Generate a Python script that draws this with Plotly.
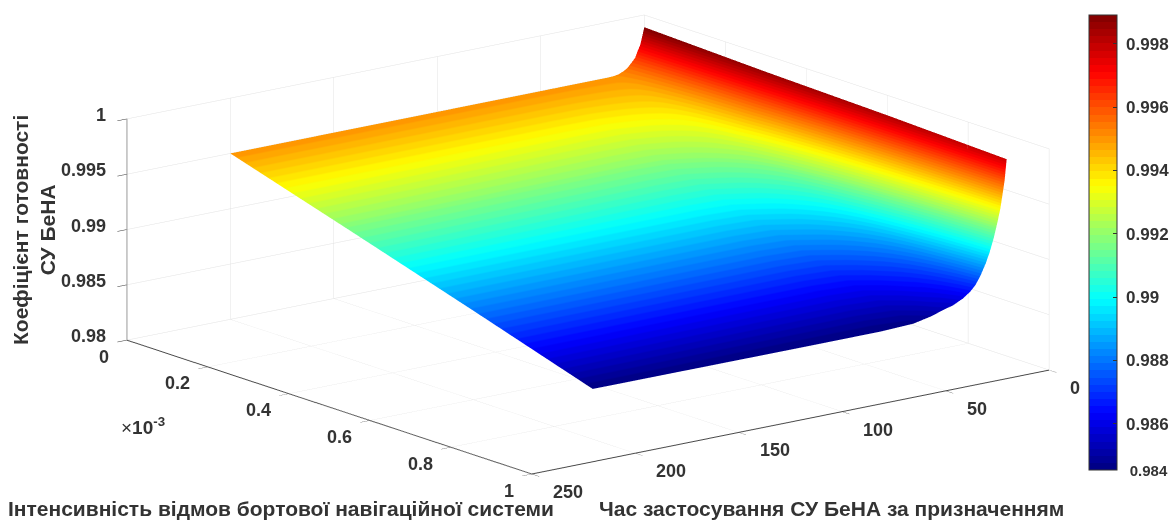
import plotly.graph_objects as go

# Time of use (x axis)
t_values = [0, 1, 1.9, 3.1, 4.4, 6.25, 8.25, 10, 12.5, 15, 17.5, 21, 26, 31, 36, 45, 61, 100, 200]
# Failure intensity, in units of 1e-3 (y axis)
lambda_values = [0, 0.3, 0.6, 0.895]
# Readiness coefficient, one row per lambda value
z_row_0 = [0.9989, 0.9981, 0.9974, 0.9969, 0.9963, 0.9959, 0.9955, 0.9953, 0.9951, 0.99503, 0.9950, 0.9950, 0.9950, 0.9950, 0.9950, 0.9950, 0.9950, 0.9950, 0.9950]
z_row_1 = [0.9985, 0.99751, 0.99693, 0.99620, 0.99562, 0.99489, 0.99426, 0.99379, 0.99327, 0.99286, 0.99259, 0.99234, 0.99210, 0.99192, 0.99180, 0.99161, 0.99155, 0.99155, 0.99155]
z_row_2 = [0.9982, 0.99675, 0.99591, 0.99484, 0.99400, 0.99293, 0.99201, 0.99133, 0.99057, 0.98996, 0.98957, 0.98920, 0.98885, 0.98859, 0.98842, 0.98814, 0.98805, 0.98805, 0.98805]
z_row_3 = [0.9978, 0.9959, 0.9948, 0.9934, 0.9923, 0.9909, 0.98968, 0.9888, 0.9878, 0.9870, 0.9865, 0.9860, 0.98555, 0.9853, 0.98498, 0.98462, 0.9845, 0.9845, 0.98454]

z_ticks = [0.98, 0.985, 0.99, 0.995, 1]
z_tick_text = ["0.98", "0.985", "0.99", "0.995", "1"]
t_ticks = [0, 50, 100, 150, 200, 250]
t_tick_text = ["0", "50", "100", "150", "200", "250"]
lambda_ticks = [0, 0.2, 0.4, 0.6, 0.8, 1]
lambda_tick_text = ["0", "0.2", "0.4", "0.6", "0.8", "1"]
cbar_ticks = [0.98454, 0.986, 0.988, 0.99, 0.992, 0.994, 0.996, 0.998]
cbar_text = ["0.984", "0.986", "0.988", "0.99", "0.992", "0.994", "0.996", "0.998"]

TEXT = "#333333"
W, H = 1171, 521
FONT = "Liberation Sans"


def jet_scale(n=64):
    def ramp(v):
        return max(0.0, min(1.0, 1.5 - abs(4 * v - 2) ))
    stops = []
    for i in range(n):
        v = (i + 0.5) / n
        r = ramp(v - 0.25)
        g = ramp(v)
        b = ramp(v + 0.25)
        c = f"rgb({round(r*255)},{round(g*255)},{round(b*255)})"
        stops.append([i / n, c])
        stops.append([(i + 1) / n, c])
    return stops


cbar_labels = ["\u00a0" + s for s in cbar_text]
cbar_labels[0] = "<span style='font-size:15px'>\u00a0\u00a0" + cbar_text[0] + "</span>"

surface = go.Surface(
    x=t_values,
    y=lambda_values,
    z=[z_row_0, z_row_1, z_row_2, z_row_3],
    cmin=0.98454,
    cmax=0.99891,
    colorscale=jet_scale(),
    lighting=dict(ambient=1, diffuse=0, specular=0, roughness=1, fresnel=0),
    hoverinfo="skip",
    colorbar=dict(
        x=1089 / W, xanchor="left", xpad=0,
        y=1 - 470 / H, yanchor="bottom", ypad=0,
        len=455, lenmode="pixels",
        thickness=28, thicknessmode="pixels",
        tickmode="array", tickvals=cbar_ticks,
        ticktext=cbar_labels,
        ticks="inside", ticklen=4, tickcolor=TEXT,
        tickfont=dict(family=FONT, size=17, color=TEXT, weight="bold"),
        outlinecolor=TEXT, outlinewidth=1,
    ),
)


def axis(**kw):
    return dict(
        showbackground=False, showgrid=True, gridcolor="#e2e2e2", gridwidth=1,
        zeroline=False, showline=True, linecolor="#484848", linewidth=2,
        ticks="outside", ticklen=12, tickcolor="#303030", tickwidth=1, showticklabels=False,
        title=dict(text=""), showspikes=False, **kw,
    )


def tick_label(x, y, z, text, xanchor, xshift, yshift):
    return dict(x=x, y=y, z=z, text=f"<b>{text}</b>", showarrow=False,
                xanchor=xanchor, yanchor="middle", xshift=xshift, yshift=yshift,
                font=dict(family=FONT, size=18, color=TEXT))


tick_labels = (
    [tick_label(250, 0, v, s, "right", -19, 4) for v, s in zip(z_ticks, z_tick_text)]
    + [tick_label(250, v, 0.98, s, "right", -16, -16.5) for v, s in zip(lambda_ticks, lambda_tick_text)]
    + [tick_label(v, 1, 0.98, s, "left", 19, -18) for v, s in zip(t_ticks, t_tick_text)]
)

fig = go.Figure(surface)
d = 3
k = 2.64
cz = -0.0167
fig.update_layout(
    width=W, height=H,
    margin=dict(l=0, r=0, t=0, b=0, autoexpand=False),
    paper_bgcolor="white",
    scene=dict(
        domain=dict(x=[0.0043, 1], y=[0.046, 1]),
        aspectmode="manual",
        aspectratio=dict(x=1 * k, y=1.004 * k, z=0.349 * k),
        xaxis=axis(range=[0, 250], tickmode="array", tickvals=t_ticks),
        yaxis=axis(range=[0, 1], tickmode="array", tickvals=lambda_ticks),
        zaxis=axis(range=[0.98, 1], tickmode="array", tickvals=z_ticks),
        camera=dict(
            projection=dict(type="orthographic"),
            up=dict(x=0, y=0, z=1),
            center=dict(x=0, y=0, z=cz),
            eye=dict(x=0.594 * d, y=0.762 * d, z=0.2577 * d + cz),
        ),
        annotations=tick_labels,
    ),
    annotations=[
        dict(text="<b>Інтенсивність відмов бортової навігаційної системи</b>", x=6 / W, y=1 - 508 / H,
             xref="paper", yref="paper", xanchor="left", yanchor="middle", showarrow=False,
             font=dict(family=FONT, size=21, color=TEXT)),
        dict(text="<b>Час застосування СУ БеНА за призначенням</b>", x=597 / W, y=1 - 508 / H,
             xref="paper", yref="paper", xanchor="left", yanchor="middle", showarrow=False,
             font=dict(family=FONT, size=21, color=TEXT)),
        dict(text="<b>Коефіцієнт готовності<br>СУ БеНА</b>", x=34 / W, y=1 - 230 / H,
             xref="paper", yref="paper", xanchor="center", yanchor="middle", showarrow=False, textangle=-90,
             font=dict(family=FONT, size=21, color=TEXT)),
        dict(text="×<b>10<sup>-3</sup></b>", x=143 / W, y=1 - 426 / H,
             xref="paper", yref="paper", xanchor="center", yanchor="middle", showarrow=False,
             font=dict(family=FONT, size=19, color=TEXT)),
    ],
)
fig.write_html("out.html", config=dict(displayModeBar=False),
               post_script="document.body.style.margin='0';")
